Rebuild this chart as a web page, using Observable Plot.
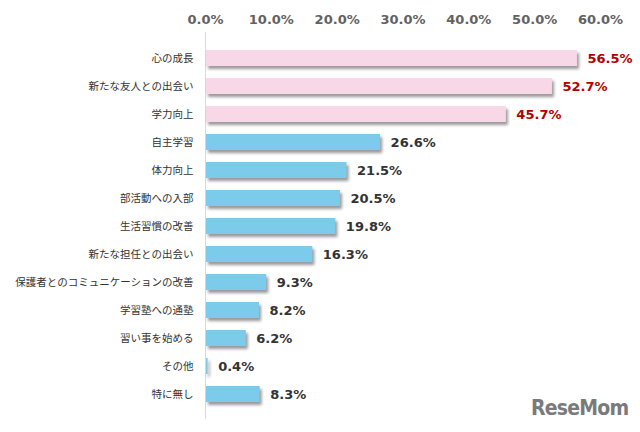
<!DOCTYPE html>
<html><head><meta charset="utf-8">
<script src="https://cdn.jsdelivr.net/npm/d3@7"></script>
<script src="https://cdn.jsdelivr.net/npm/@observablehq/plot@0.6"></script>
<style>
body{margin:0;background:#fff;}
#wrap{position:relative;width:640px;height:432px;}
#logo{position:absolute;left:531px;top:396px;font:bold 21px "DejaVu Sans Condensed","DejaVu Sans",sans-serif;color:#7a7a7a;letter-spacing:-0.8px;}
</style></head>
<body><div id="wrap"><div id="chart"></div><div id="logo">ReseMom</div></div>
<script>
const categories = ["心の成長","新たな友人との出会い","学力向上","自主学習","体力向上","部活動への入部","生活習慣の改善","新たな担任との出会い","保護者とのコミュニケーションの改善","学習塾への通塾","習い事を始める","その他","特に無し"];
const values = [56.5,52.7,45.7,26.6,21.5,20.5,19.8,16.3,9.3,8.2,6.2,0.4,8.3];
const highlighted = [true,true,true,false,false,false,false,false,false,false,false,false,false];
const xTicks = [0,10,20,30,40,50,60];

const data = categories.map((c,i)=>({cat:c, v:values[i], hi:highlighted[i]}));

const chart = Plot.plot({
  width:640, height:432,
  marginLeft:205, marginRight:40, marginTop:32, marginBottom:13,
  style:{background:"#fff"},
  x:{domain:[0,60], axis:null},
  y:{domain:categories, padding:0.44, axis:null},
  marks:[
    Plot.axisX({anchor:"top", ticks:xTicks, tickSize:0, tickPadding:9, tickFormat:d=>d.toFixed(1)+"%", fontSize:13, fontWeight:"bold", fill:"#626262", fontFamily:"DejaVu Sans, sans-serif", label:null}),
    Plot.ruleX([0], {stroke:"#d9d9d9"}),
    Plot.barX(data, {y:"cat", x:"v", fill:d=>d.hi?"#f8d8e7":"#7dcbea", insetLeft:1, imageFilter:"drop-shadow(2px 3px 1.5px rgba(0,0,0,0.4))"}),
    Plot.axisY({anchor:"left", tickSize:0, tickPadding:12, fontSize:10.5, fill:"#333", fontFamily:"Noto Sans CJK JP, sans-serif", label:null}),
    Plot.text(data, {y:"cat", x:"v", text:d=>d.v.toFixed(1)+"%", dx:10, textAnchor:"start", fontSize:13, fontWeight:"bold", fill:d=>d.hi?"#b40000":"#333", fontFamily:"DejaVu Sans, sans-serif"})
  ]
});
document.getElementById("chart").append(chart);
</script>
</body></html>
